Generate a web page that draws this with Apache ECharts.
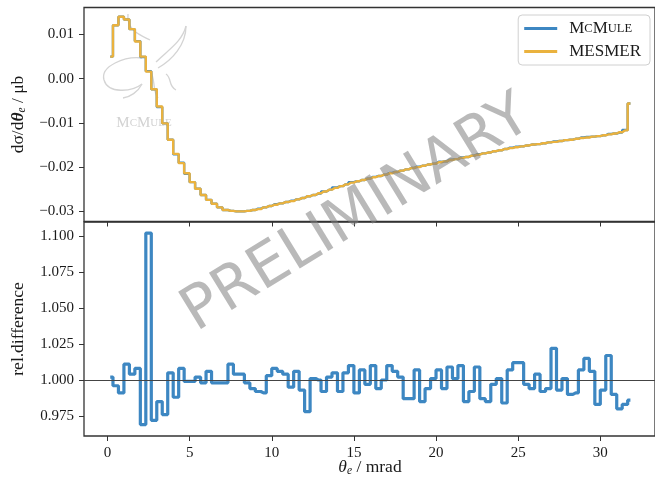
<!DOCTYPE html>
<html><head><meta charset="utf-8">
<script src="https://cdn.jsdelivr.net/npm/echarts@6/dist/echarts.min.js"></script>
<style>html,body{margin:0;padding:0;background:#fff}#c{width:655px;height:483px}</style>
</head><body><div id="c"></div>
<script>
// ---- data ----
const binCount = 96;          // bins of width 1/3 mrad from 0 to 32 mrad
const binWidth = 1 / 3;
const mesmer = [0.0050, 0.0121, 0.0140, 0.0134, 0.0112, 0.0084, 0.0050, 0.0016, -0.0024, -0.0063,
 -0.0101, -0.0138, -0.0170, -0.0191, -0.0214, -0.0234, -0.0249, -0.0263, -0.0274, -0.0283,
 -0.0291, -0.0297, -0.0299, -0.0300, -0.0300, -0.0299, -0.0297, -0.0295, -0.0291, -0.0288,
 -0.0285, -0.0282, -0.0279, -0.0277, -0.0273, -0.0270, -0.0266, -0.0263, -0.0259, -0.0255,
 -0.0251, -0.0247, -0.0243, -0.0239, -0.0235, -0.0232, -0.0229, -0.0226, -0.0223, -0.0220,
 -0.0217, -0.0214, -0.0211, -0.0208, -0.0205, -0.0202, -0.0200, -0.0197, -0.0194, -0.0192,
 -0.0189, -0.0187, -0.0184, -0.0182, -0.0179, -0.0177, -0.0174, -0.0172, -0.0169, -0.0167,
 -0.0164, -0.0162, -0.0159, -0.0157, -0.0155, -0.0153, -0.0151, -0.0149, -0.0148, -0.0146,
 -0.0144, -0.0143, -0.0141, -0.0139, -0.0138, -0.0136, -0.0134, -0.0133, -0.0131, -0.0130,
 -0.0128, -0.0126, -0.0124, -0.0121, -0.0117, -0.0056];
const mcmule = [0.0050, 0.0121, 0.0140, 0.0134, 0.0112, 0.0085, 0.0049, 0.0017, -0.0024, -0.0064,
 -0.0101, -0.0138, -0.0171, -0.0190, -0.0215, -0.0234, -0.0249, -0.0263, -0.0274, -0.0283,
 -0.0291, -0.0297, -0.0299, -0.0300, -0.0300, -0.0299, -0.0297, -0.0294, -0.0291, -0.0288,
 -0.0284, -0.0282, -0.0279, -0.0276, -0.0273, -0.0270, -0.0266, -0.0263, -0.0260, -0.0255,
 -0.0251, -0.0246, -0.0243, -0.0239, -0.0234, -0.0232, -0.0229, -0.0226, -0.0222, -0.0220,
 -0.0217, -0.0213, -0.0211, -0.0208, -0.0205, -0.0202, -0.0199, -0.0197, -0.0194, -0.0192,
 -0.0188, -0.0187, -0.0183, -0.0182, -0.0178, -0.0177, -0.0174, -0.0171, -0.0169, -0.0167,
 -0.0164, -0.0162, -0.0159, -0.0156, -0.0154, -0.0153, -0.0151, -0.0149, -0.0148, -0.0146,
 -0.0144, -0.0142, -0.0141, -0.0139, -0.0138, -0.0136, -0.0133, -0.0132, -0.0131, -0.0130,
 -0.0128, -0.0125, -0.0124, -0.0122, -0.0116, -0.0056];
const relDiff = [1.002, 0.996, 0.991, 1.011, 1.004, 1.008, 0.969, 1.102, 0.972, 0.985,
 0.976, 1.005, 0.988, 1.008, 0.999, 0.999, 1.002, 0.998, 1.006, 0.998,
 0.998, 0.998, 1.011, 1.004, 1.004, 0.998, 0.994, 0.992, 0.991, 1.003,
 1.008, 1.006, 1.004, 0.995, 1.006, 0.993, 0.978, 1.001, 1.000, 0.992,
 1.002, 1.005, 0.992, 1.005, 1.010, 0.991, 1.007, 0.997, 1.010, 0.994,
 1.000, 1.010, 1.006, 1.002, 0.987, 0.987, 1.007, 0.985, 0.994, 1.001,
 1.007, 0.994, 1.009, 1.001, 1.010, 0.985, 0.992, 1.009, 0.987, 0.985,
 0.997, 1.001, 0.984, 1.007, 1.012, 1.012, 0.997, 0.994, 1.004, 0.992,
 0.994, 1.022, 0.993, 1.001, 0.990, 0.991, 1.007, 1.015, 1.006, 0.983,
 0.993, 1.017, 0.990, 0.980, 0.983, 0.986];
const xTicks = [0, 5, 10, 15, 20, 25, 30];
const topTicks = [-0.03, -0.02, -0.01, 0.00, 0.01];
const bottomTicks = [0.975, 1.000, 1.025, 1.050, 1.075, 1.100];

// ---- chart ----
const centers = Array.from({length: binCount}, (_, i) => (i + 0.5) * binWidth);
const pair = arr => arr.map((y, i) => [centers[i], y]);
const FONT = '"Liberation Serif", "DejaVu Serif", serif';
const BLUE = '#3d87c2', ORANGE = '#eab23e', TXT = '#1a1a1a', AX = '#333';
const TITLE = 17.5;

const chart = echarts.init(document.getElementById('c'), null, {renderer: 'canvas'});
const xBase = (gi, showLabel) => ({
  type: 'value', gridIndex: gi, min: -1.43, max: 33.33,
  axisLine: {show: false, onZero: false},
  splitLine: {show: false},
  axisTick: {show: true, length: 5, lineStyle: {color: AX, width: 1}, customValues: xTicks},
  axisLabel: {show: showLabel, customValues: xTicks, fontFamily: FONT, fontSize: 15, color: TXT, margin: 10}
});
const yBase = (gi, min, max, ticks, dec) => ({
  type: 'value', gridIndex: gi, min: min, max: max,
  axisLine: {show: false, onZero: false},
  splitLine: {show: false},
  axisTick: {show: true, length: 5, lineStyle: {color: AX, width: 1}, customValues: ticks},
  axisLabel: {customValues: ticks, fontFamily: FONT, fontSize: 15, color: TXT, margin: 10,
    formatter: v => v.toFixed(dec).replace('-', '\u2212')}
});

chart.setOption({
  animation: false,
  backgroundColor: '#fff',
  grid: [
    {left: 84, top: 7.5, width: 573, height: 214, show: true, borderColor: AX, borderWidth: 1.3},
    {left: 84, top: 222, width: 573, height: 214, show: true, borderColor: AX, borderWidth: 1.3}
  ],
  xAxis: [xBase(0, false), xBase(1, true)],
  yAxis: [yBase(0, -0.0323, 0.0161, topTicks, 2), yBase(1, 0.9611, 1.1097, bottomTicks, 3)],
  legend: {
    data: ['McMule', 'MESMER'], orient: 'vertical', right: 5, top: 15,
    backgroundColor: 'rgba(255,255,255,0.85)', borderColor: '#d0d0d0', borderWidth: 1, borderRadius: 4,
    padding: [5, 9, 5, 6], itemGap: 6, itemWidth: 33, itemHeight: 3, icon: 'rect',
    textStyle: {fontFamily: FONT, fontSize: 17, color: TXT, padding: [0, 0, 0, 7],
      rich: {a: {fontFamily: FONT, fontSize: 17, color: TXT}, b: {fontFamily: FONT, fontSize: 12.5, color: TXT}}},
    formatter: n => n === 'McMule' ? '{a|M}{b|C}{a|M}{b|ULE}' : '{a|MESMER}'
  },
  series: [
    {name: 'McMule', type: 'line', xAxisIndex: 0, yAxisIndex: 0, step: 'middle', showSymbol: false, symbol: 'none',
     data: pair(mcmule), lineStyle: {color: BLUE, width: 2.4}, itemStyle: {color: BLUE}, z: 3},
    {name: 'MESMER', type: 'line', xAxisIndex: 0, yAxisIndex: 0, step: 'middle', showSymbol: false, symbol: 'none',
     data: pair(mesmer), lineStyle: {color: ORANGE, width: 2.4}, itemStyle: {color: ORANGE}, z: 4},
    {name: 'ratio', type: 'line', xAxisIndex: 1, yAxisIndex: 1, step: 'middle', showSymbol: false, symbol: 'none',
     data: pair(relDiff), lineStyle: {color: BLUE, width: 3.2}, itemStyle: {color: BLUE}, z: 3,
     markLine: {silent: true, symbol: 'none', label: {show: false}, animation: false,
       lineStyle: {color: '#444', width: 1, type: 'solid'}, data: [{yAxis: 1}]}}
  ],
  graphic: [
    // McMule logo watermark (faint)
    {type: 'group', z: 1, silent: true, children: [
      {type: 'bezierCurve', shape: {x1: 128, y1: 14, x2: 150, y2: 40, cpx1: 126, cpy1: 30, cpx2: 140, cpy2: 35}, style: {stroke: '#d4d4d4', lineWidth: 1.3, fill: null}},
      {type: 'bezierCurve', shape: {x1: 142, y1: 58, x2: 104, y2: 80, cpx1: 125, cpy1: 56, cpx2: 100, cpy2: 66}, style: {stroke: '#d4d4d4', lineWidth: 1.3, fill: null}},
      {type: 'bezierCurve', shape: {x1: 104, y1: 80, x2: 142, y2: 84, cpx1: 108, cpy1: 94, cpx2: 132, cpy2: 92}, style: {stroke: '#d4d4d4', lineWidth: 1.3, fill: null}},
      {type: 'bezierCurve', shape: {x1: 142, y1: 84, x2: 123, y2: 98, cpx1: 138, cpy1: 92, cpx2: 130, cpy2: 97}, style: {stroke: '#d4d4d4', lineWidth: 1.3, fill: null}},
      {type: 'bezierCurve', shape: {x1: 156, y1: 62, x2: 186, y2: 26, cpx1: 168, cpy1: 50, cpx2: 182, cpy2: 42}, style: {stroke: '#d4d4d4', lineWidth: 1.3, fill: null}},
      {type: 'bezierCurve', shape: {x1: 186, y1: 26, x2: 158, y2: 68, cpx1: 186, cpy1: 45, cpx2: 172, cpy2: 60}, style: {stroke: '#d4d4d4', lineWidth: 1.3, fill: null}},
      {type: 'bezierCurve', shape: {x1: 166, y1: 74, x2: 176, y2: 90, cpx1: 172, cpy1: 78, cpx2: 168, cpy2: 86}, style: {stroke: '#d4d4d4', lineWidth: 1.3, fill: null}},
      {type: 'bezierCurve', shape: {x1: 150, y1: 70, x2: 158, y2: 98, cpx1: 156, cpy1: 80, cpx2: 152, cpy2: 90}, style: {stroke: '#d4d4d4', lineWidth: 1.3, fill: null}},
      {type: 'text', x: 144, y: 123, style: {text: '{a|M}{b|C}{a|M}{b|ULE}', align: 'center', verticalAlign: 'middle',
        rich: {a: {fontFamily: FONT, fontSize: 15, fill: '#d2d2d2'}, b: {fontFamily: FONT, fontSize: 11, fill: '#d2d2d2'}}}}
    ]},
    // axis titles
    {type: 'text', x: 18, y: 114.5, rotation: Math.PI / 2, silent: true,
     style: {text: '{n|d\u03c3/d}{i|\u03b8}{s|e}{n| / \u03bcb}', align: 'center', verticalAlign: 'middle',
       rich: {n: {fontFamily: FONT, fontSize: TITLE, fill: TXT}, i: {fontFamily: FONT, fontSize: TITLE, fontStyle: 'italic', fontWeight: 'bold', fill: TXT},
              s: {fontFamily: FONT, fontSize: 11.5, fontStyle: 'italic', fill: TXT, verticalAlign: 'bottom', padding: [7, 0, 0, 0]}}}},
    {type: 'text', x: 18, y: 329, rotation: Math.PI / 2, silent: true,
     style: {text: 'rel.difference', align: 'center', verticalAlign: 'middle', fontFamily: FONT, fontSize: TITLE, fill: TXT}},
    {type: 'text', x: 370, y: 467, silent: true,
     style: {text: '{i|\u03b8}{s|e}{n| / mrad}', align: 'center', verticalAlign: 'middle',
       rich: {n: {fontFamily: FONT, fontSize: TITLE, fill: TXT}, i: {fontFamily: FONT, fontSize: TITLE, fontStyle: 'italic', fill: TXT},
              s: {fontFamily: FONT, fontSize: 11.5, fontStyle: 'italic', fill: TXT, verticalAlign: 'bottom', padding: [7, 0, 0, 0]}}}},
    // PRELIMINARY watermark
    {type: 'text', x: 357, y: 215, rotation: 31.5 * Math.PI / 180, z: 100, silent: true,
     style: {text: 'PRELIMINARY', align: 'center', verticalAlign: 'middle', fontFamily: '"DejaVu Sans", sans-serif', fontSize: 60, fill: 'rgba(128,128,128,0.55)'}}
  ]
});
</script></body></html>
